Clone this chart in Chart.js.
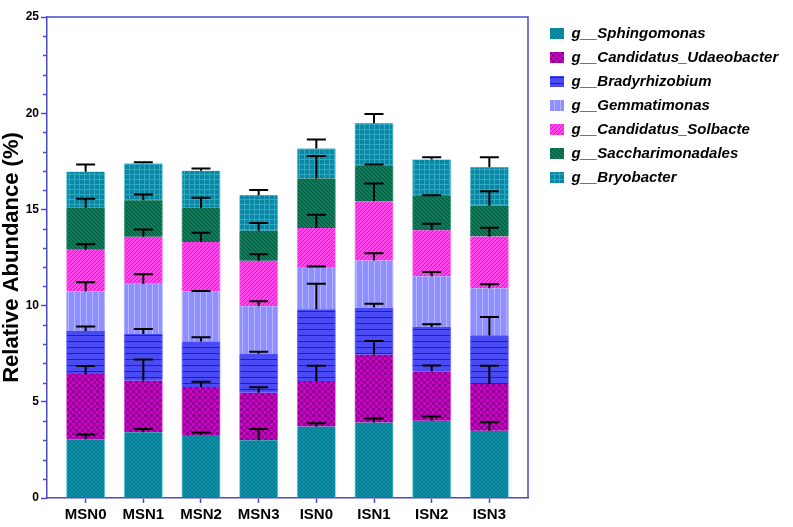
<!DOCTYPE html>
<html>
<head>
<meta charset="utf-8">
<script src="https://cdn.jsdelivr.net/npm/chart.js@4.4.1/dist/chart.umd.min.js"></script>
<style>
  html, body { margin: 0; padding: 0; background: #fff; }
  #wrap { width: 793px; height: 527px; position: relative; }
</style>
</head>
<body>
<div id="wrap"><canvas id="chart"></canvas></div>
<script>
// samples on the x axis
const samples = ['MSN0', 'MSN1', 'MSN2', 'MSN3', 'ISN0', 'ISN1', 'ISN2', 'ISN3'];
const genera = ['g__Sphingomonas', 'g__Candidatus_Udaeobacter', 'g__Bradyrhizobium', 'g__Gemmatimonas',
                'g__Candidatus_Solbacte', 'g__Saccharimonadales', 'g__Bryobacter'];

// mean relative abundance (%), stacked bottom to top
const sphingomonas      = [3.06, 3.42, 3.28, 3.00, 3.71, 3.92, 4.01, 3.49];
const udaeobacter       = [3.38, 2.67, 2.49, 2.47, 2.37, 3.53, 2.57, 2.43];
const bradyrhizobium    = [2.24, 2.43, 2.36, 2.03, 3.73, 2.45, 2.31, 2.53];
const gemmatimonas      = [2.05, 2.61, 2.60, 2.47, 2.19, 2.44, 2.64, 2.45];
const solbacte          = [2.17, 2.45, 2.58, 2.36, 2.03, 3.08, 2.38, 2.69];
const saccharimonadales = [2.19, 1.89, 1.78, 1.56, 2.58, 1.87, 1.78, 1.60];
const bryobacter        = [1.87, 1.91, 1.92, 1.84, 1.55, 2.19, 1.90, 2.00];

// standard errors (upper bars only)
const sphingomonasErr      = [0.24, 0.17, 0.12, 0.59, 0.18, 0.21, 0.22, 0.45];
const udaeobacterErr       = [0.42, 1.11, 0.27, 0.28, 0.80, 0.71, 0.31, 0.96];
const bradyrhizobiumErr    = [0.23, 0.26, 0.22, 0.10, 1.32, 0.19, 0.14, 0.96];
const gemmatimonasErr      = [0.48, 0.50, 0.03, 0.26, 0.03, 0.38, 0.21, 0.21];
const solbacteErr          = [0.29, 0.38, 0.47, 0.34, 0.69, 0.92, 0.34, 0.46];
const saccharimonadalesErr = [0.47, 0.30, 0.52, 0.40, 1.17, 0.05, 0.05, 0.75];
const bryobacterErr        = [0.37, 0.07, 0.11, 0.28, 0.47, 0.48, 0.12, 0.52];

const yTicks = [0, 5, 10, 15, 20, 25];

const seriesValues = [sphingomonas, udaeobacter, bradyrhizobium, gemmatimonas, solbacte, saccharimonadales, bryobacter];
const seriesErrors = [sphingomonasErr, udaeobacterErr, bradyrhizobiumErr, gemmatimonasErr, solbacteErr, saccharimonadalesErr, bryobacterErr];

const axisColor = '#4b4bc8';
const fontFamily = '"Liberation Sans", Arial, Helvetica, sans-serif';
const legendWidth = 250;

function makePattern(w, h, bg, draw) {
    const c = document.createElement('canvas');
    c.width = w;
    c.height = h;
    const g = c.getContext('2d');
    g.fillStyle = bg;
    g.fillRect(0, 0, w, h);
    draw(g);
    return g.createPattern(c, 'repeat');
}

const fills = [
    makePattern(4, 4, '#0a93aa', g => {   // fine cross hatch
        g.fillStyle = '#0b7c92';
        for (let i = 0; i < 4; i++) { g.fillRect(i, i, 1, 1); g.fillRect(3 - i, i, 1, 1); }
    }),
    makePattern(6, 6, '#d200c6', g => {   // checkerboard
        g.fillStyle = '#8c0094';
        g.fillRect(0, 0, 3, 3);
        g.fillRect(3, 3, 3, 3);
    }),
    makePattern(1, 6, '#4b4bf5', g => {   // horizontal lines
        g.fillStyle = '#2020b8';
        g.fillRect(0, 5, 1, 1);
    }),
    makePattern(6, 1, '#8f8fff', g => {   // vertical lines
        g.fillStyle = '#b4b4ff';
        g.fillRect(2, 0, 1, 1);
    }),
    makePattern(4, 4, '#ff46ea', g => {   // diagonal /
        g.fillStyle = '#c820c8';
        for (let i = 0; i < 4; i++) g.fillRect(3 - i, i, 1, 1);
    }),
    makePattern(4, 4, '#0a7c5c', g => {   // diagonal \
        g.fillStyle = '#00573c';
        for (let i = 0; i < 4; i++) g.fillRect(i, i, 1, 1);
    }),
    makePattern(5, 5, '#0a87a3', g => {   // grid
        g.fillStyle = '#30a8c2';
        g.fillRect(4, 0, 1, 5);
        g.fillRect(0, 4, 5, 1);
    })
];
const edges = ['#78d2e0', '#e070e0', '#8080ff', '#b8b8ff', '#ff90f0', '#60b090', '#78d2e0'];

const datasets = seriesValues.map((vals, i) => ({
    label: genera[i],
    data: vals.map((v, j) => ({ x: j, y: v })),
    backgroundColor: fills[i],
    borderColor: edges[i],
    borderWidth: { left: 1, right: 1, top: 0, bottom: 0 },
    borderSkipped: false,
    barThickness: 38.5
}));

const decorations = {
    id: 'decorations',
    afterInit(chart) {
        // the legend is wider than layout normally allows for a side box
        const legend = chart.legend;
        const fit = legend.fit;
        legend.fit = function () {
            fit.call(this);
            this.width = legendWidth;
        };
    },
    afterDatasetsDraw(chart) {
        const ctx = chart.ctx;
        const { left, top, right, bottom } = chart.chartArea;
        const ys = chart.scales.y;
        ctx.save();
        // box around the plot
        ctx.strokeStyle = axisColor;
        ctx.lineWidth = 1.5;
        ctx.beginPath();
        ctx.moveTo(left, top);
        ctx.lineTo(right, top);
        ctx.lineTo(right, bottom);
        ctx.stroke();
        // minor ticks
        for (let v = ys.min; v <= ys.max; v++) {
            if (v % 5 === 0) continue;
            const py = Math.round(ys.getPixelForValue(v)) + 0.5;
            ctx.beginPath();
            ctx.moveTo(left - 4, py);
            ctx.lineTo(left, py);
            ctx.stroke();
        }
        // error bars (upper only)
        ctx.strokeStyle = '#000';
        ctx.lineWidth = 2;
        for (let j = 0; j < samples.length; j++) {
            let cum = 0;
            for (let i = 0; i < seriesValues.length; i++) {
                cum += seriesValues[i][j];
                const bar = chart.getDatasetMeta(i).data[j];
                const y0 = ys.getPixelForValue(cum);
                const y1 = ys.getPixelForValue(cum + seriesErrors[i][j]);
                ctx.beginPath();
                ctx.moveTo(bar.x, y0);
                ctx.lineTo(bar.x, y1);
                ctx.moveTo(bar.x - 9.5, y1);
                ctx.lineTo(bar.x + 9.5, y1);
                ctx.stroke();
            }
        }
        ctx.restore();
    }
};

new Chart(document.getElementById('chart'), {
    type: 'bar',
    data: { datasets: datasets },
    options: {
        responsive: true,
        maintainAspectRatio: false,
        animation: false,
        layout: { padding: { top: 17, right: 2, bottom: 0, left: 0 } },
        plugins: {
            tooltip: { enabled: false },
            legend: {
                position: 'right',
                align: 'start',
                labels: {
                    boxWidth: 14,
                    boxHeight: 11,
                    padding: 9,
                    color: '#000',
                    font: { family: fontFamily, size: 15, weight: 'bold', style: 'italic' },
                    generateLabels(chart) {
                        const items = Chart.defaults.plugins.legend.labels.generateLabels(chart);
                        items.forEach(it => { it.lineWidth = 0; });
                        return items;
                    }
                }
            }
        },
        scales: {
            x: {
                type: 'linear',
                min: -0.67,
                max: 7.67,
                offset: false,
                stacked: true,
                afterBuildTicks(scale) {
                    scale.ticks = samples.map((s, i) => ({ value: i }));
                },
                ticks: {
                    callback: v => samples[v],
                    autoSkip: false,
                    maxRotation: 0,
                    padding: 3,
                    color: '#000',
                    font: { family: fontFamily, size: 15, weight: 'bold' }
                },
                grid: { offset: false, drawOnChartArea: false, tickLength: 5, color: axisColor, tickWidth: 1.5 },
                border: { color: axisColor, width: 1.5 }
            },
            y: {
                stacked: true,
                min: 0,
                max: 25,
                afterBuildTicks(scale) {
                    scale.ticks = yTicks.map(v => ({ value: v }));
                },
                afterFit(scale) { scale.width = 47; },
                ticks: {
                    padding: 2,
                    color: '#000',
                    font: { family: fontFamily, size: 12, weight: 'bold' }
                },
                title: {
                    display: true,
                    text: 'Relative Abundance (%)',
                    color: '#000',
                    padding: { top: 0, bottom: 0 },
                    font: { family: fontFamily, size: 22, weight: 'bold', lineHeight: 1.1 }
                },
                grid: { drawOnChartArea: false, tickLength: 6, color: axisColor, tickWidth: 1.5 },
                border: { color: axisColor, width: 1.5 }
            },
            yRight: {
                position: 'right',
                display: true,
                grid: { display: false },
                ticks: { display: false },
                border: { display: false },
                afterFit(scale) { scale.width = 13; }
            }
        }
    },
    plugins: [decorations]
});
</script>
</body>
</html>
